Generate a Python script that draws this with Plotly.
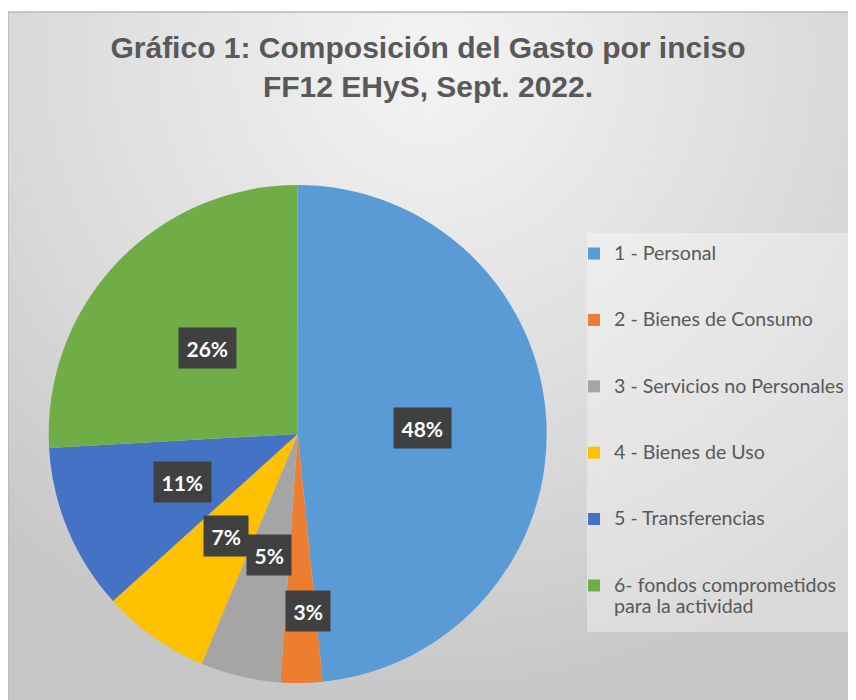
import base64
import math
import struct
import zlib

import plotly.graph_objects as go

# ---------------- data ----------------
categories = [
    "1 - Personal",
    "2 - Bienes de Consumo",
    "3 - Servicios no Personales",
    "4 - Bienes de Uso",
    "5 - Transferencias",
    "6- fondos comprometidos<br>para la actividad",
]
values = [48.4, 2.7, 5.2, 7.0, 10.8, 25.9]
colors = ["#5B9BD5", "#ED7D31", "#A5A5A5", "#FFC000", "#4472C4", "#70AD47"]
title_lines = ["Gráfico 1: Composición del Gasto por inciso", "FF12 EHyS, Sept. 2022."]

# ---------------- geometry / style ----------------
OFF = 8                      # page (body) margin of the html page
W, H = 856 - OFF, 700 - OFF  # figure size so that it fills the window
PANEL = (8, 12, 856, 700)    # chart area in screen px (left, top, right, bottom)
CX, CY, R = 297.7, 434.0, 249.0  # pie centre / radius in screen px
TEXT_GREY = "#595959"


def px_x(x):
    return (x - OFF) / W


def px_y(y):
    return 1 - (y - OFF) / H


def gradient_png(w, h):
    rows = []
    for py in range(h):
        row = bytearray([0])
        for px in range(w):
            X = PANEL[0] + (px + 0.5) * (PANEL[2] - PANEL[0]) / w
            Y = PANEL[1] + (py + 0.5) * (PANEL[3] - PANEL[1]) / h
            t = math.hypot((X - 430) / 560, (Y - 60) / 560)
            if t <= 0.75:
                v = 244 - 27 * t / 0.75
            elif t <= 1.15:
                v = 217 - 18 * (t - 0.75) / 0.4
            else:
                v = 199
            c = int(round(v))
            row += bytes([c, c, c])
        rows.append(bytes(row))
    raw = b"".join(rows)

    def chunk(tag, data):
        return (struct.pack(">I", len(data)) + tag + data
                + struct.pack(">I", zlib.crc32(tag + data) & 0xFFFFFFFF))

    png = (b"\x89PNG\r\n\x1a\n"
           + chunk(b"IHDR", struct.pack(">IIBBBBB", w, h, 8, 2, 0, 0, 0))
           + chunk(b"IDAT", zlib.compress(raw, 9))
           + chunk(b"IEND", b""))
    return "data:image/png;base64," + base64.b64encode(png).decode()


# legend labels: bigger visible text, blank lines give the Excel-like spacing
def legend_label(name, last):
    txt = "<br>".join(f'<span style="font-size:19.6px">{ln}</span>' for ln in name.split("<br>"))
    return txt if last else txt + "<br> <br> "


legend_labels = [legend_label(c, i == len(categories) - 1) for i, c in enumerate(categories)]

fig = go.Figure(
    go.Pie(
        labels=legend_labels,
        values=values,
        sort=False,
        direction="clockwise",
        rotation=0,
        marker=dict(colors=colors, line=dict(width=0)),
        textinfo="none",
        hoverinfo="label+percent",
        domain=dict(x=[px_x(CX - R), px_x(CX + R)], y=[px_y(CY + R), px_y(CY - R)]),
    )
)

# data labels in dark boxes
total = sum(values)
annotations = []
cum = 0.0
for v in values:
    theta = 2 * math.pi * (cum + v / 2) / total
    small = v / total < 0.04
    frac = 0.71 if small else 0.5
    sx = CX + frac * R * math.sin(theta) + (8 if small else 0)
    sy = CY - frac * R * math.cos(theta)
    annotations.append(dict(
        x=px_x(sx), y=px_y(sy), xref="paper", yref="paper",
        text=f"{round(v / total * 100)}%", showarrow=False,
        font=dict(family="Lato", size=21, color="white", weight="bold"),
        bgcolor="#404040", borderpad=7.5,
        xanchor="center", yanchor="middle",
    ))
    cum += v

fig.update_layout(
    width=W, height=H,
    margin=dict(l=0, r=0, t=0, b=0),
    paper_bgcolor="white",
    title=dict(
        text="<br>".join(title_lines),
        x=px_x(428), xanchor="center", xref="paper",
        y=px_y(58), yanchor="top",
        font=dict(family="Liberation Sans, Arial", size=30, color=TEXT_GREY, weight="bold"),
    ),
    legend=dict(
        x=px_x(614 - 40), xanchor="left",
        y=px_y(236.5), yanchor="top",
        valign="top",
        bgcolor="rgba(0,0,0,0)",
        font=dict(family="Lato", size=16.25, color=TEXT_GREY),
    ),
    images=[dict(
        source=gradient_png(212, 172),
        xref="paper", yref="paper",
        x=px_x(PANEL[0]), y=px_y(PANEL[1]),
        sizex=(PANEL[2] - PANEL[0]) / W, sizey=(PANEL[3] - PANEL[1]) / H,
        sizing="stretch", layer="below", xanchor="left", yanchor="top",
    )],
    shapes=[
        dict(type="rect", xref="paper", yref="paper",
             x0=px_x(PANEL[0]), x1=px_x(PANEL[2] + 2), y0=px_y(PANEL[3] + 2), y1=px_y(PANEL[1]),
             line=dict(color="#b8b8b8", width=1.5), fillcolor="rgba(0,0,0,0)", layer="below"),
        dict(type="rect", xref="paper", yref="paper",
             x0=px_x(587), x1=px_x(855), y0=px_y(632), y1=px_y(233),
             line=dict(width=0), fillcolor="rgba(255,255,255,0.35)", layer="below"),
    ],
    annotations=annotations,
)

fig.write_html("out.html")
